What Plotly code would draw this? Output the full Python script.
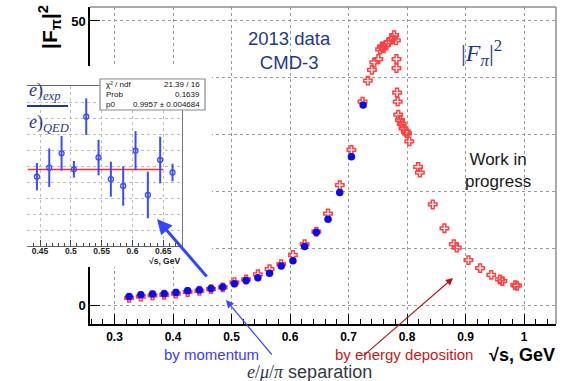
import plotly.graph_objects as go

W, H = 566, 381

# ---------------- data ----------------
momentum_x = [0.325, 0.345, 0.365, 0.385, 0.405, 0.425, 0.445, 0.465, 0.485, 0.505, 0.525,
              0.545, 0.565, 0.585, 0.605, 0.625, 0.645, 0.665, 0.685, 0.705, 0.725]
momentum_y = [1.5, 1.8, 1.95, 2.0, 2.2, 2.5, 2.65, 2.9, 3.15, 3.75, 4.3,
              4.8, 5.6, 6.85, 7.8, 10.3, 12.8, 15.1, 19.8, 26.1, 35.2]

energy_x = [0.325, 0.345, 0.365, 0.385, 0.405, 0.425, 0.445, 0.465, 0.485, 0.505, 0.525,
            0.545, 0.565, 0.585, 0.605, 0.625, 0.645, 0.665, 0.685, 0.705, 0.724,
            0.733, 0.740, 0.744, 0.751, 0.754, 0.757, 0.760, 0.764, 0.768, 0.774, 0.778,
            0.781, 0.782, 0.782, 0.783, 0.784, 0.785, 0.788, 0.791, 0.794, 0.798, 0.800,
            0.804, 0.819, 0.822, 0.844, 0.864, 0.880, 0.885, 0.905, 0.925, 0.944, 0.959,
            0.963, 0.985, 0.988]
energy_y = [1.25, 1.5, 1.7, 1.8, 2.0, 2.3, 2.5, 2.8, 3.1, 4.0, 4.5,
            5.4, 6.3, 7.2, 8.8, 10.7, 12.9, 16.1, 21.1, 27.3, 35.8,
            39.5, 41.4, 42.7, 43.3, 45.0, 45.5, 45.2, 45.8, 46.2, 46.8, 47.5,
            46.6, 43.3, 41.7, 37.4, 35.8, 33.5, 32.6, 31.9, 31.1, 30.5, 30.2,
            28.8, 24.3, 23.3, 17.7, 13.5, 10.7, 10.1, 7.9, 6.5, 5.3, 4.5,
            4.2, 3.5, 3.4]

ratio_x = [0.445, 0.465, 0.485, 0.505, 0.525, 0.545, 0.565, 0.585, 0.605, 0.625, 0.645, 0.665]
ratio_y = [0.9866, 0.9979, 1.0159, 0.9959, 1.0616, 1.0106, 0.9835, 0.9750, 1.0191, 0.9638, 1.0075, 0.9919]
ratio_err = [0.0171, 0.0240, 0.0217, 0.0104, 0.0229, 0.0223, 0.0219, 0.0246, 0.0244, 0.0291, 0.0291, 0.0109]
fit_p0 = 0.9957
fit_range = [0.43, 0.65]

main_xticks = [0.3, 0.4, 0.5, 0.6, 0.7, 0.8, 0.9, 1.0]
main_xticklabels = ["0.3", "0.4", "0.5", "0.6", "0.7", "0.8", "0.9", "1"]
main_yticks = [0, 10, 20, 30, 40, 50]
main_yticklabels = ["0", "", "", "", "", "50"]
inset_xticks = [0.45, 0.5, 0.55, 0.6, 0.65]
inset_xticklabels = ["0.45", "0.5", "0.55", "0.6", "0.65"]
inset_yticks = [0.90, 0.92, 0.94, 0.96, 0.98, 1.00, 1.02, 1.04, 1.06, 1.08, 1.10]

stats_rows = [("χ² / ndf", "21.39 / 16"), ("Prob", "0.1639"), ("p0", "0.9957 ± 0.004684")]


def px(x):
    return x / W


def py(y):
    return 1 - y / H


SANS = "Liberation Sans, Arial, sans-serif"
SERIF = "Liberation Serif, Times New Roman, serif"
NAVY = "#1f3a86"

fig = go.Figure()

# main plot traces
fig.add_trace(go.Scatter(
    x=energy_x, y=energy_y, mode="markers", xaxis="x", yaxis="y",
    marker=dict(symbol="cross-open", size=7, color="#ff4040", line=dict(width=1.5, color="#ff4040")),
    hoverinfo="skip", showlegend=False))
fig.add_trace(go.Scatter(
    x=momentum_x, y=momentum_y, mode="markers", xaxis="x", yaxis="y",
    marker=dict(symbol="circle", size=7.5, color="#0a0aee"),
    hoverinfo="skip", showlegend=False))

# white backdrop of the inset (separate subplot drawn above the main one)
fig.add_trace(go.Scatter(
    x=[0, 1, 1, 0, 0], y=[0, 0, 1, 1, 0], mode="lines", fill="toself",
    fillcolor="white", line=dict(width=0, color="white"), xaxis="x2", yaxis="y2",
    hoverinfo="skip", showlegend=False))

# inset traces
fig.add_trace(go.Scatter(
    x=fit_range, y=[fit_p0, fit_p0], mode="lines", xaxis="x3", yaxis="y3",
    line=dict(color="#ff2a2a", width=1.5), hoverinfo="skip", showlegend=False))
fig.add_trace(go.Scatter(
    x=ratio_x, y=ratio_y, mode="markers", xaxis="x3", yaxis="y3",
    error_y=dict(type="data", array=ratio_err, width=0, thickness=2, color="#3b4cff"),
    marker=dict(symbol="circle-open", size=5, color="#3b4cff", line=dict(width=1.3, color="#3b4cff")),
    hoverinfo="skip", showlegend=False))

grid = dict(showgrid=True, gridcolor="#9a9a9a", griddash="dot", gridwidth=1)

fig.update_layout(
    width=W, height=H, margin=dict(l=0, r=0, t=0, b=0),
    paper_bgcolor="white", plot_bgcolor="white", showlegend=False,
    xaxis=dict(domain=[px(90), px(556)], range=[0.2581, 1.0547], anchor="y",
               tickmode="array", tickvals=main_xticks, ticktext=main_xticklabels,
               ticks="inside", ticklen=10, tickwidth=1.2, tickcolor="black",
               ticklabelstandoff=1,
               minor=dict(dtick=0.02, tick0=0, ticks="inside", ticklen=5, tickcolor="black",
                          tickwidth=1, showgrid=False),
               showline=True, linecolor="black", linewidth=1.5, zeroline=False,
               tickfont=dict(family=SANS, size=12, color="black", weight="bold"), **grid),
    yaxis=dict(domain=[py(324), py(7)], range=[-3.345, 52.46], anchor="x",
               tickmode="array", tickvals=main_yticks, ticktext=main_yticklabels,
               ticks="inside", ticklen=10, tickwidth=1.2, tickcolor="black",
               showline=True, linecolor="black", linewidth=1.5, zeroline=False,
               tickfont=dict(family=SANS, size=13, color="black", weight="bold"), **grid),
    xaxis2=dict(domain=[0, px(212)], range=[0, 1], visible=False, anchor="y2", fixedrange=True),
    yaxis2=dict(domain=[py(267), py(66)], range=[0, 1], visible=False, anchor="x2", fixedrange=True),
    xaxis3=dict(domain=[px(27), px(182)], range=[0.4289, 0.6804], anchor="y3",
                tickmode="array", tickvals=inset_xticks, ticktext=inset_xticklabels,
                ticks="inside", ticklen=6, tickcolor="#444", ticklabelstandoff=-3,
                minor=dict(dtick=0.01, tick0=0, ticks="inside", ticklen=3, tickcolor="#444",
                           showgrid=False),
                showline=True, mirror=True, linecolor="#666", linewidth=1.2, zeroline=False,
                tickfont=dict(family=SANS, size=8.5, color="#222", weight="bold"),
                showgrid=True, gridcolor="#bdbdbd", griddash="dot", gridwidth=1),
    yaxis3=dict(domain=[py(246), py(86)], range=[0.9, 1.1], anchor="x3", side="right",
                tickmode="array", tickvals=inset_yticks, showticklabels=False, ticks="",
                showline=True, linecolor="#777", linewidth=1.2, zeroline=False,
                showgrid=True, gridcolor="#bdbdbd", griddash="dot", gridwidth=1),
)

# top / right frame of the main plot (grey)
shapes = [
    dict(type="line", xref="x domain", yref="y domain", x0=0, x1=1, y0=1, y1=1,
         line=dict(color="#8c8c8c", width=1.5), layer="above"),
    dict(type="line", xref="x domain", yref="y domain", x0=1, x1=1, y0=0, y1=1,
         line=dict(color="#8c8c8c", width=1.5), layer="above"),
    # stats box
    dict(type="rect", xref="paper", yref="paper", x0=px(100), x1=px(205), y0=py(110), y1=py(79),
         line=dict(color="#8a8a8a", width=1.2), fillcolor="white", layer="above"),
    # fraction bar of the inset y title
    dict(type="line", xref="paper", yref="paper", x0=px(27), x1=px(68), y0=py(106), y1=py(106),
         line=dict(color=NAVY, width=2), layer="above"),
]
fig.update_layout(shapes=shapes)

ann = []


def text(x, y, t, size, color, family=SANS, xanchor="center", yanchor="middle", **kw):
    f = dict(family=family, size=size, color=color)
    if "weight" in kw:
        f["weight"] = kw.pop("weight")
    ann.append(dict(x=px(x), y=py(y), xref="paper", yref="paper", text=t, showarrow=False,
                    font=f, xanchor=xanchor, yanchor=yanchor, **kw))


# y-axis title
text(50, 27, "|F<sub>π</sub>|<sup>2</sup>", 21, "black", weight="bold", textangle=-90)
# x-axis title
text(557, 355, "√s, GeV", 18, "black", xanchor="right", weight="bold")
# labels in the plot
text(289, 51, "2013 data<br>CMD-3", 18.5, NAVY)
text(482, 53, "|<i>F</i><sub><i>π</i></sub>|<sup>2</sup>", 24, NAVY, family=SERIF)
text(498, 170, "Work in<br>progress", 17, "#1a1a1a")
text(211, 354, "by momentum", 15, "#3b3bff")
text(404, 354, "by energy deposition", 15, "#c41a1a")
text(309, 372,
     "<span style=\"font-family:'Liberation Serif'\"><i>e</i>/<i>μ</i>/<i>π</i></span> separation",
     18, "#333845")
# inset y title (fraction, cut on the left)
text(27, 92, "<i>e</i>)<sub><i>exp</i></sub>", 18, NAVY, family=SERIF, xanchor="left")
text(27, 124, "<i>e</i>)<sub><i>QED</i></sub>", 18, NAVY, family=SERIF, xanchor="left")
# inset x title
text(182, 261, "√s, GeV", 8.5, "#222", xanchor="right", weight="bold")
# stats box text
for i, (k, v) in enumerate(stats_rows):
    yy = 84 + i * 10.5
    text(104, yy, k, 8, "#111", xanchor="left")
    text(202, yy, v, 8, "#111", xanchor="right")

# arrows
arrows = [
    dict(x=px(157), y=py(219), ax=51, ay=59, arrowwidth=3, arrowcolor="#3246ff", arrowhead=2, arrowsize=1),
    dict(x=px(226), y=py(300), ax=47, ay=56, arrowwidth=1.2, arrowcolor="#3b46ff", arrowhead=2, arrowsize=1.3),
    dict(x=px(453), y=py(278), ax=-91, ay=79, arrowwidth=1.1, arrowcolor="#b01515", arrowhead=2, arrowsize=1.3),
]
for a in arrows:
    a.update(xref="paper", yref="paper", text="", showarrow=True, standoff=0)
    ann.append(a)

fig.update_layout(annotations=ann)

fig.write_html("out.html")
